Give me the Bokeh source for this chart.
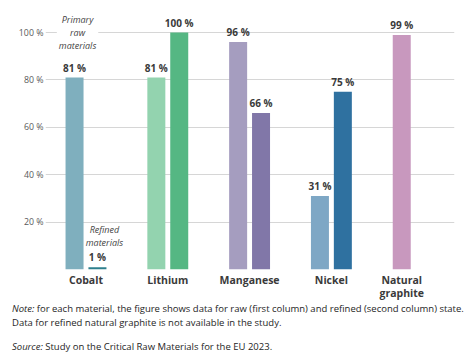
from bokeh.plotting import figure
from bokeh.models import ColumnDataSource, FixedTicker, Label, Div
from bokeh.layouts import column
from bokeh.core.properties import value
from bokeh.embed import file_html
from bokeh.resources import INLINE

# ---- data ----
materials = ["Cobalt", "Lithium", "Manganese", "Nickel", "Natural\ngraphite"]
raw_values = [81, 81, 96, 31, 99]
refined_values = [1, 100, 66, 75, None]
raw_colors = ["#7FAFBE", "#93D3AF", "#A59DBF", "#7EA7C5", "#C898BE"]
refined_colors = ["#2E7F8D", "#55B783", "#8177A8", "#2F71A0", None]
y_ticks = [20, 40, 60, 80, 100]
y_tick_labels = ["20 %", "40 %", "60 %", "80 %", "100 %"]
raw_note = "Primary\nraw\nmaterials"
refined_note = "Refined\nmaterials"
footer_note = ("for each material, the figure shows data for raw (first column) and refined (second column) state.",
               "Data for refined natural graphite is not available in the study.")
footer_source = "Study on the Critical Raw Materials for the EU 2023."

FONT = "Open Sans"
OFF = 0.14
BAR_W = 0.22

raw_x = [i - OFF for i in range(len(materials))]
ref_x = [i + OFF for i in range(len(materials))]

raw_src = ColumnDataSource(dict(
    x=raw_x, top=raw_values, color=raw_colors,
    label=[f"{v} %" for v in raw_values]))
ref_idx = [i for i, v in enumerate(refined_values) if v is not None]
ref_src = ColumnDataSource(dict(
    x=[ref_x[i] for i in ref_idx], top=[refined_values[i] for i in ref_idx],
    color=[refined_colors[i] for i in ref_idx],
    label=[f"{refined_values[i]} %" for i in ref_idx]))

# label positions: centre of the bars that exist in each group
tick_pos = [float(i) if refined_values[i] is not None else raw_x[i] for i in range(len(materials))]

p = figure(frame_width=409, frame_height=259, x_range=(-0.495, 4.505), y_range=(0, 109.3),
           output_backend="svg", toolbar_location=None,
           min_border_left=45, min_border_right=7, min_border_top=10, min_border_bottom=31)
p.outline_line_color = None
p.background_fill_color = "white"
p.border_fill_color = "white"
p.xgrid.visible = False
p.ygrid.ticker = FixedTicker(ticks=[0] + y_ticks)
p.ygrid.grid_line_color = "#d6d6d6"
p.ygrid.grid_line_width = 1

ya = p.yaxis[0]
ya.ticker = FixedTicker(ticks=y_ticks)
ya.major_label_overrides = {t: l for t, l in zip(y_ticks, y_tick_labels)}
ya.axis_line_color = None
ya.major_tick_line_color = None
ya.major_tick_out = 0
ya.major_tick_in = 0
ya.minor_tick_line_color = None
ya.major_label_standoff = 2
ya.major_label_text_font = FONT
ya.major_label_text_font_size = "8.8px"
ya.major_label_text_color = "#595959"

xa = p.xaxis[0]
xa.ticker = FixedTicker(ticks=tick_pos)
xa.major_label_overrides = {t: m for t, m in zip(tick_pos, materials)}
xa.axis_line_color = None
xa.major_tick_line_color = None
xa.major_tick_out = 0
xa.major_tick_in = 0
xa.minor_tick_line_color = None
xa.major_label_standoff = 3
xa.major_label_text_font = FONT
xa.major_label_text_font_style = "bold"
xa.major_label_text_font_size = "10.5px"
xa.major_label_text_line_height = 0.95
xa.major_label_text_color = "#3a3a3a"

p.vbar(x="x", top="top", width=BAR_W, fill_color="color", line_color=None, source=raw_src)
p.vbar(x="x", top="top", width=BAR_W, fill_color="color", line_color=None, source=ref_src)

for src in (raw_src, ref_src):
    p.text(x="x", y="top", text="label", source=src, text_font=value(FONT),
           text_font_style="bold", text_font_size="10px", text_color="#3a3a3a",
           text_align="center", text_baseline="alphabetic", y_offset=-10)

p.add_layout(Label(x=raw_x[0], y=100, text=raw_note, x_offset=3,
                   text_font=FONT, text_font_style="italic", text_font_size="9px",
                   text_color="#444444", text_align="center", text_baseline="middle",
                   text_line_height=1.0, background_fill_color="white", padding=2))
p.add_layout(Label(x=ref_x[0], y=refined_values[0], text=refined_note, x_offset=7, y_offset=31,
                   text_font=FONT, text_font_style="italic", text_font_size="9px",
                   text_color="#444444", text_align="center", text_baseline="middle",
                   text_line_height=1.0))

footer = Div(
    text=(f"<div><i>Note:</i> {footer_note[0]}</div><div>{footer_note[1]}</div>"
          f"<div style='margin-top:10px'><i>Source:</i> {footer_source}</div>"),
    width=455, margin=(0, 0, 0, 12),
    styles={"font-family": FONT, "font-size": "9.5px", "line-height": "14px",
            "color": "#1e1e1e", "white-space": "nowrap"})

layout = column(p, footer, spacing=0)
open("out.html", "w").write(file_html(layout, INLINE))
